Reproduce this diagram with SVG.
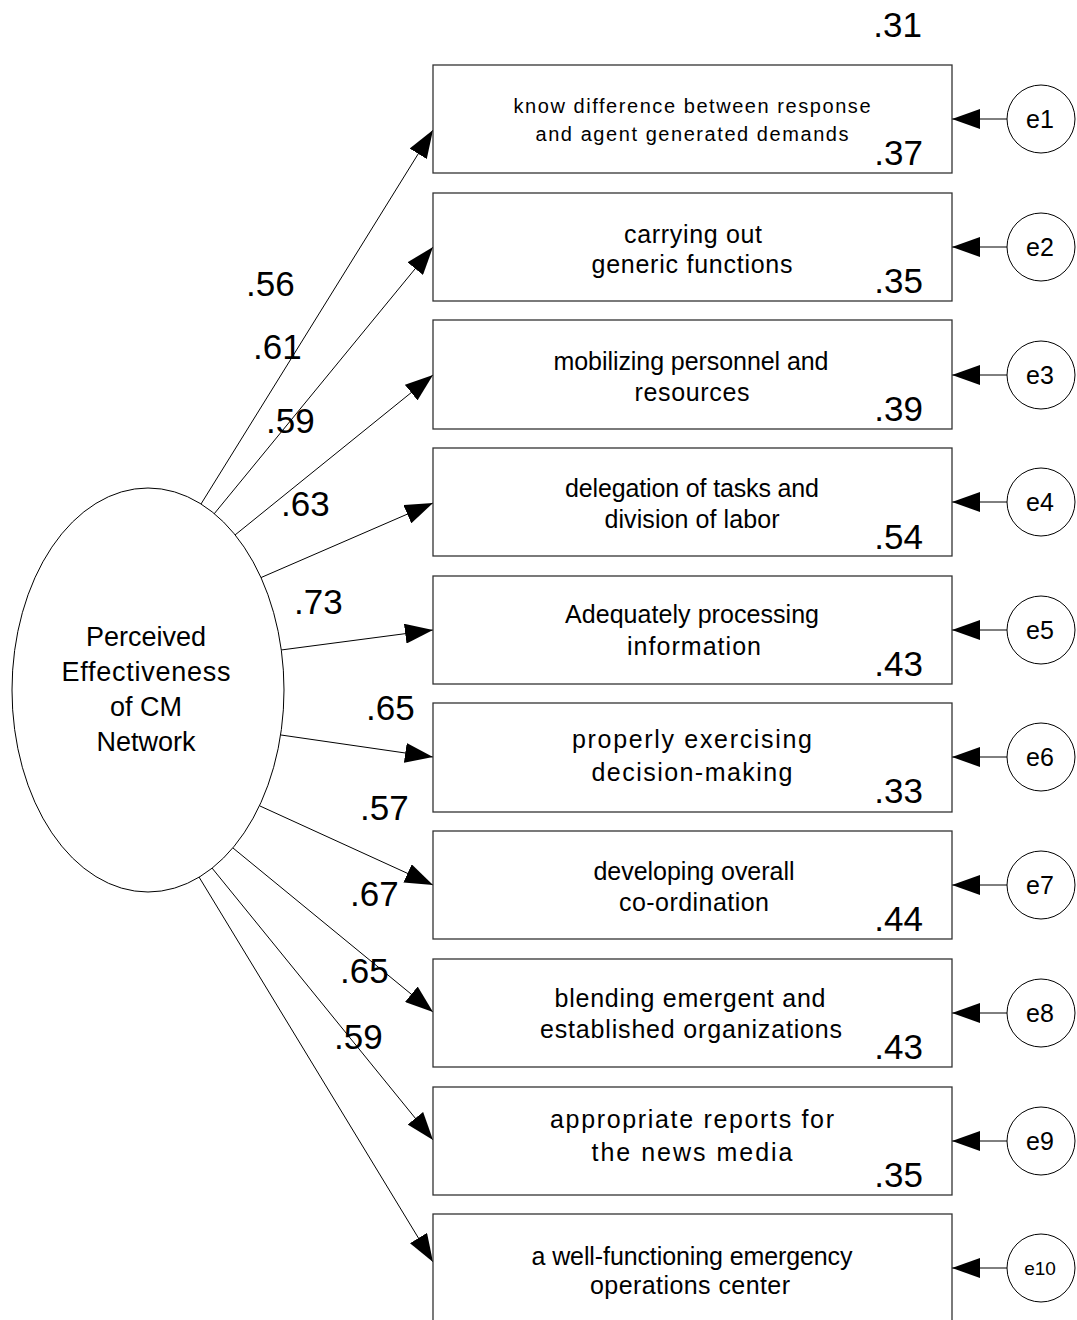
<svg xmlns="http://www.w3.org/2000/svg" width="1077" height="1320" viewBox="0 0 1077 1320">
<style>
.bg{fill:#fff}
.box{fill:#fff;stroke:#333;stroke-width:1.3}
.lat{fill:#fff;stroke:#000;stroke-width:1}
.err{fill:#fff;stroke:#000;stroke-width:1}
.cn{stroke:#000;stroke-width:1;fill:none;marker-end:url(#ah)}
text{font-family:"Liberation Sans",Arial,sans-serif;fill:#000}
.bt{font-size:25px;text-anchor:middle}
.bt1{font-size:20px;text-anchor:middle}
.num{font-size:35px}
.r2{font-size:35px;text-anchor:end}
.el{font-size:25px;text-anchor:middle}
.e10{font-size:19px;text-anchor:middle}
.lt{font-size:27px;text-anchor:middle}
</style>
<defs>
<marker id="ah" markerUnits="userSpaceOnUse" markerWidth="28" markerHeight="20" refX="28" refY="10" orient="auto">
<path d="M0,0 L28,10 L0,20 Z" fill="#000"/>
</marker>
</defs>
<rect class="bg" x="0" y="0" width="1077" height="1320"/>

<g id="connectors">
<line class="cn" x1="201" y1="504" x2="433" y2="130"/>
<line class="cn" x1="214" y1="514" x2="433" y2="247"/>
<line class="cn" x1="235" y1="535" x2="433" y2="375"/>
<line class="cn" x1="260" y1="578" x2="433" y2="503"/>
<line class="cn" x1="281" y1="650" x2="433" y2="630"/>
<line class="cn" x1="281" y1="735" x2="433" y2="757"/>
<line class="cn" x1="260" y1="806" x2="433" y2="885"/>
<line class="cn" x1="233" y1="848" x2="433" y2="1012"/>
<line class="cn" x1="212" y1="868" x2="433" y2="1140"/>
<line class="cn" x1="199" y1="877" x2="433" y2="1262"/>
<line class="cn" x1="1007" y1="119" x2="952" y2="119"/>
<line class="cn" x1="1007" y1="247" x2="952" y2="247"/>
<line class="cn" x1="1007" y1="375" x2="952" y2="375"/>
<line class="cn" x1="1007" y1="502" x2="952" y2="502"/>
<line class="cn" x1="1007" y1="630" x2="952" y2="630"/>
<line class="cn" x1="1007" y1="757" x2="952" y2="757"/>
<line class="cn" x1="1007" y1="885" x2="952" y2="885"/>
<line class="cn" x1="1007" y1="1013" x2="952" y2="1013"/>
<line class="cn" x1="1007" y1="1141" x2="952" y2="1141"/>
<line class="cn" x1="1007" y1="1268" x2="952" y2="1268"/>
<text class="num" x="246" y="296">.56</text>
<text class="num" x="253" y="359">.61</text>
<text class="num" x="266" y="433">.59</text>
<text class="num" x="281" y="516">.63</text>
<text class="num" x="294" y="614">.73</text>
<text class="num" x="366" y="720">.65</text>
<text class="num" x="360" y="820">.57</text>
<text class="num" x="350" y="906">.67</text>
<text class="num" x="340" y="983">.65</text>
<text class="num" x="334" y="1049">.59</text>
</g>

<g id="latent">
<ellipse class="lat" cx="148" cy="690" rx="136" ry="202"/>
<text class="lt" x="146" y="646">Perceived</text>
<text class="lt" x="146" y="681" textLength="169">Effectiveness</text>
<text class="lt" x="146" y="716">of CM</text>
<text class="lt" x="146" y="751">Network</text>
</g>

<g id="r2top"><text class="r2" x="922" y="37">.31</text></g>

<g id="v1">
<rect class="box" x="433" y="65" width="519" height="108"/>
<text class="bt1" x="692" y="113" textLength="357">know difference between response</text>
<text class="bt1" x="692" y="141" textLength="313">and agent generated demands</text>
<text class="r2" x="923" y="165">.37</text>
</g>
<g id="v2">
<rect class="box" x="433" y="193" width="519" height="108"/>
<text class="bt" x="693" y="243" textLength="138">carrying out</text>
<text class="bt" x="692" y="273" textLength="201">generic functions</text>
<text class="r2" x="923" y="293">.35</text>
</g>
<g id="v3">
<rect class="box" x="433" y="320" width="519" height="109"/>
<text class="bt" x="691" y="370" textLength="275">mobilizing personnel and</text>
<text class="bt" x="692" y="401" textLength="115">resources</text>
<text class="r2" x="923" y="421">.39</text>
</g>
<g id="v4">
<rect class="box" x="433" y="448" width="519" height="108"/>
<text class="bt" x="692" y="497" textLength="254">delegation of tasks and</text>
<text class="bt" x="692" y="528" textLength="175">division of labor</text>
<text class="r2" x="923" y="549">.54</text>
</g>
<g id="v5">
<rect class="box" x="433" y="576" width="519" height="108"/>
<text class="bt" x="692" y="623" textLength="254">Adequately processing</text>
<text class="bt" x="694" y="655" textLength="134">information</text>
<text class="r2" x="923" y="676">.43</text>
</g>
<g id="v6">
<rect class="box" x="433" y="703" width="519" height="109"/>
<text class="bt" x="692" y="748" textLength="240">properly exercising</text>
<text class="bt" x="692" y="781" textLength="201">decision-making</text>
<text class="r2" x="923" y="803">.33</text>
</g>
<g id="v7">
<rect class="box" x="433" y="831" width="519" height="108"/>
<text class="bt" x="694" y="880" textLength="201">developing overall</text>
<text class="bt" x="694" y="911" textLength="150">co-ordination</text>
<text class="r2" x="923" y="931">.44</text>
</g>
<g id="v8">
<rect class="box" x="433" y="959" width="519" height="108"/>
<text class="bt" x="690" y="1007" textLength="271">blending emergent and</text>
<text class="bt" x="691" y="1038" textLength="302">established organizations</text>
<text class="r2" x="923" y="1059">.43</text>
</g>
<g id="v9">
<rect class="box" x="433" y="1087" width="519" height="108"/>
<text class="bt" x="692" y="1128" textLength="284">appropriate reports for</text>
<text class="bt" x="692" y="1161" textLength="201">the news media</text>
<text class="r2" x="923" y="1187">.35</text>
</g>
<g id="v10">
<rect class="box" x="433" y="1214" width="519" height="120"/>
<text class="bt" x="692" y="1265" textLength="321">a well-functioning emergency</text>
<text class="bt" x="690" y="1294" textLength="200">operations center</text>
</g>

<g id="e1"><circle class="err" cx="1041" cy="119" r="34"/><text class="el" x="1040" y="128">e1</text></g>
<g id="e2"><circle class="err" cx="1041" cy="247" r="34"/><text class="el" x="1040" y="256">e2</text></g>
<g id="e3"><circle class="err" cx="1041" cy="375" r="34"/><text class="el" x="1040" y="384">e3</text></g>
<g id="e4"><circle class="err" cx="1041" cy="502" r="34"/><text class="el" x="1040" y="511">e4</text></g>
<g id="e5"><circle class="err" cx="1041" cy="630" r="34"/><text class="el" x="1040" y="639">e5</text></g>
<g id="e6"><circle class="err" cx="1041" cy="757" r="34"/><text class="el" x="1040" y="766">e6</text></g>
<g id="e7"><circle class="err" cx="1041" cy="885" r="34"/><text class="el" x="1040" y="894">e7</text></g>
<g id="e8"><circle class="err" cx="1041" cy="1013" r="34"/><text class="el" x="1040" y="1022">e8</text></g>
<g id="e9"><circle class="err" cx="1041" cy="1141" r="34"/><text class="el" x="1040" y="1150">e9</text></g>
<g id="e10"><circle class="err" cx="1041" cy="1268" r="34"/><text class="e10" x="1040" y="1275">e10</text></g>
</svg>
